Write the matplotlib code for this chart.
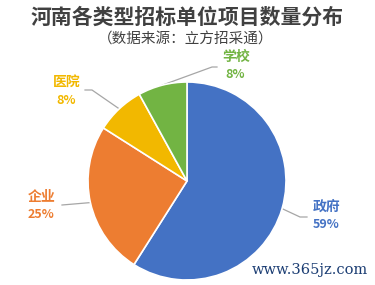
import numpy as np
import matplotlib
matplotlib.use('Agg')
import matplotlib.pyplot as plt

plt.rcParams['font.family'] = ['Noto Sans CJK SC', 'DejaVu Sans']

# data
categories = ['政府', '企业', '医院', '学校']
shares = [59, 25, 8, 8]
colors = ['#4472C4', '#ED7D31', '#F2B800', '#72B443']

W, H = 375, 285
fig = plt.figure(figsize=(W / 100, H / 100), dpi=100)
ax = fig.add_axes([0, 0, 1, 1])

cx, cy, r = 187, H - 181, 99
wedges, _ = ax.pie(shares, colors=colors, startangle=90, counterclock=False,
                   center=(cx, cy), radius=r,
                   wedgeprops=dict(edgecolor='white', linewidth=1.2))
ax.set_xlim(0, W)
ax.set_ylim(0, H)
ax.set_aspect('equal')
ax.axis('off')

def py(y):
    return H - y

# label positions (pixel, y down) and leader elbows
label_pos = [(327, 207), (42, 197), (67, 82), (236, 57)]
elbows = [[(300, 217), (307, 217)],
          [(62, 205)],
          [(92, 90), (85, 90)],
          [(212, 67), (217, 67)]]

for w, name, val, col, (lx, ly), elb in zip(wedges, categories, shares, colors,
                                             label_pos, elbows):
    mid = np.deg2rad((w.theta1 + w.theta2) / 2)
    x0, y0 = cx + r * np.cos(mid), cy + r * np.sin(mid)
    xs = [x0] + [e[0] for e in elb]
    ys = [y0] + [py(e[1]) for e in elb]
    ax.plot(xs, ys, color='#A6A6A6', lw=0.9, zorder=0)
    ax.text(lx, py(ly), name, color=col, fontsize=10, fontweight='bold',
            ha='center', va='center')
    ax.text(lx - 1, py(ly + 18), f'{val}%', color=col, fontsize=9,
            fontweight='bold', ha='center', va='center')

ax.text(187.5, py(17), '河南各类型招标单位项目数量分布', fontsize=15,
        fontweight='bold', color='#404040', ha='center', va='center')
ax.text(186, py(40), '（数据来源：立方招采通）', fontsize=10.5,
        color='#404040', ha='center', va='center')
ax.text(310, py(270), 'www.365jz.com', fontsize=10.5, color='#1B3D73',
        family='DejaVu Serif', ha='center', va='center')

fig.savefig('out.png', dpi=100)
